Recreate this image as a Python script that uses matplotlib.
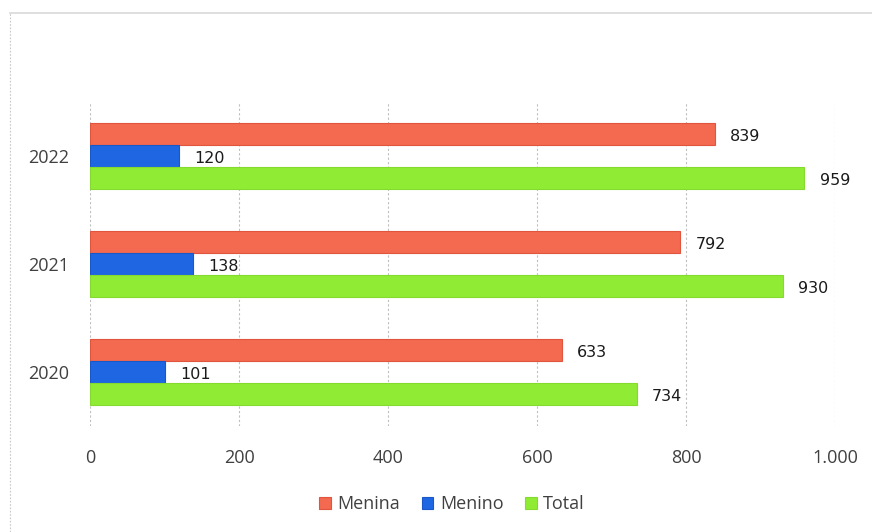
import matplotlib
matplotlib.use("Agg")
import matplotlib.pyplot as plt
from matplotlib.lines import Line2D
from matplotlib.ticker import FuncFormatter
import numpy as np

years = ["2020", "2021", "2022"]
menina = [633, 792, 839]
menino = [101, 138, 120]
total = [734, 930, 959]
series_names = ["Menina", "Menino", "Total"]
colors = ["#F46A51", "#1F66E3", "#90EB35"]
edges = ["#E0553D", "#1A58C8", "#84DA2E"]

W, H = 872, 532
fig = plt.figure(figsize=(W / 100, H / 100), dpi=100)
ax = fig.add_axes([90 / W, 1 - 426 / H, (835 - 90) / W, (426 - 102) / H])

y = np.arange(len(years))
bh = 22 / 108
offsets = [-bh, 0, bh]
for vals, name, c, ec, off in zip([menina, menino, total], series_names, colors, edges, offsets):
    bars = ax.barh(y - off, vals, height=bh, color=c, edgecolor=ec, linewidth=0.8, label=name, zorder=3)
    for b, v in zip(bars, vals):
        ax.annotate(f"{v}", xy=(v, b.get_y() + b.get_height() / 2), xytext=(11, -1.5),
                    textcoords="offset points", va="center", ha="left",
                    fontsize=11.5, color="#1a1a1a", family="DejaVu Sans")

ax.set_xlim(0, 1000)
ax.set_ylim(-0.5, 2.5)
ax.set_xticks(np.arange(0, 1001, 200))
ax.xaxis.set_major_formatter(FuncFormatter(lambda v, p: f"{int(v):,}".replace(",", ".")))
ax.set_yticks(y)
ax.set_yticklabels(years)
ax.grid(axis="x", color="#BFBFBF", linestyle=(0, (2, 2)), linewidth=0.8, zorder=0)
for s in ax.spines.values():
    s.set_visible(False)
ax.tick_params(length=0, labelsize=13, colors="#404040")
ax.tick_params(axis="x", pad=16.5)
ax.tick_params(axis="y", pad=15)
for lab in ax.get_xticklabels() + ax.get_yticklabels():
    lab.set_family("Open Sans")

# chart frame
fig.add_artist(Line2D([10 / W, 1], [1 - 13 / H, 1 - 13 / H], color="#D9D9D9", linewidth=1.2))
fig.add_artist(Line2D([10 / W, 10 / W], [0, 1 - 13 / H], color="#C8C8C8", linewidth=0.8,
                      linestyle=(0, (1.5, 1.5))))

leg = fig.legend(loc="center", bbox_to_anchor=(452 / W, 1 - 504 / H), ncol=3, frameon=False,
                 handlelength=0.65, handleheight=0.65, handletextpad=0.35, columnspacing=1.2,
                 prop={"family": "Open Sans", "size": 13})
for t in leg.get_texts():
    t.set_color("#404040")

fig.savefig("out.png", dpi=100)
